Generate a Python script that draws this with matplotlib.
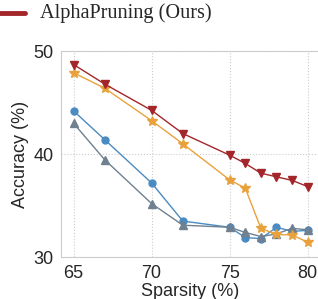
import matplotlib
matplotlib.use("Agg")
import matplotlib.pyplot as plt
import seaborn as sns

sns.set_style("whitegrid", {"grid.linestyle": ":", "axes.edgecolor": "#cccccc"})
plt.rcParams['font.family'] = ['Liberation Sans', 'DejaVu Sans']

sparsity = [65, 67, 70, 72, 75, 76, 77, 78, 79, 80]
alpha = [48.7, 46.8, 44.25, 42.0, 39.9, 39.1, 38.15, 37.8, 37.45, 36.85]
orange = [47.9, 46.4, 43.25, 41.0, 37.5, 36.7, 32.8, 32.2, 32.15, 31.45]
blue = [44.2, 41.4, 37.2, 33.5, 32.9, 31.9, 31.8, 32.9, 32.5, 32.6]
gray = [43.0, 39.45, 35.2, 33.1, 32.9, 32.4, 32.0, 32.25, 32.8, 32.65]

fig = plt.figure(figsize=(3.18, 2.99), dpi=100)
ax = fig.add_axes([0.192, 0.14, 0.81, 0.689])

ax.plot(sparsity, blue, color="#4a8bc2", marker="o", ms=5, lw=1)
ax.plot(sparsity, gray, color="#6f8090", marker="^", ms=5.5, lw=1)
ax.plot(sparsity, orange, color="#e9a23b", marker="*", ms=7, lw=1)
ax.plot(sparsity, alpha, color="#a3262a", marker="v", ms=6, lw=1)

ax.set_xlim(64.2, 80.7)
ax.set_ylim(30, 50)
ax.set_xticks([65, 70, 75, 80])
ax.set_yticks([30, 40, 50])
ax.tick_params(labelsize=13, pad=2)
ax.set_xlabel("Sparsity (%)", fontsize=13, labelpad=1)
ax.set_ylabel("Accuracy (%)", fontsize=13, labelpad=3)

fig.lines.append(plt.Line2D([0.0, 0.08], [0.957, 0.957], transform=fig.transFigure, color="#a3262a", lw=3.5))
fig.text(0.125, 0.957, "AlphaPruning (Ours)", family="Liberation Serif", fontsize=14.6, va="center", ha="left")

fig.savefig("out.png", dpi=100)
